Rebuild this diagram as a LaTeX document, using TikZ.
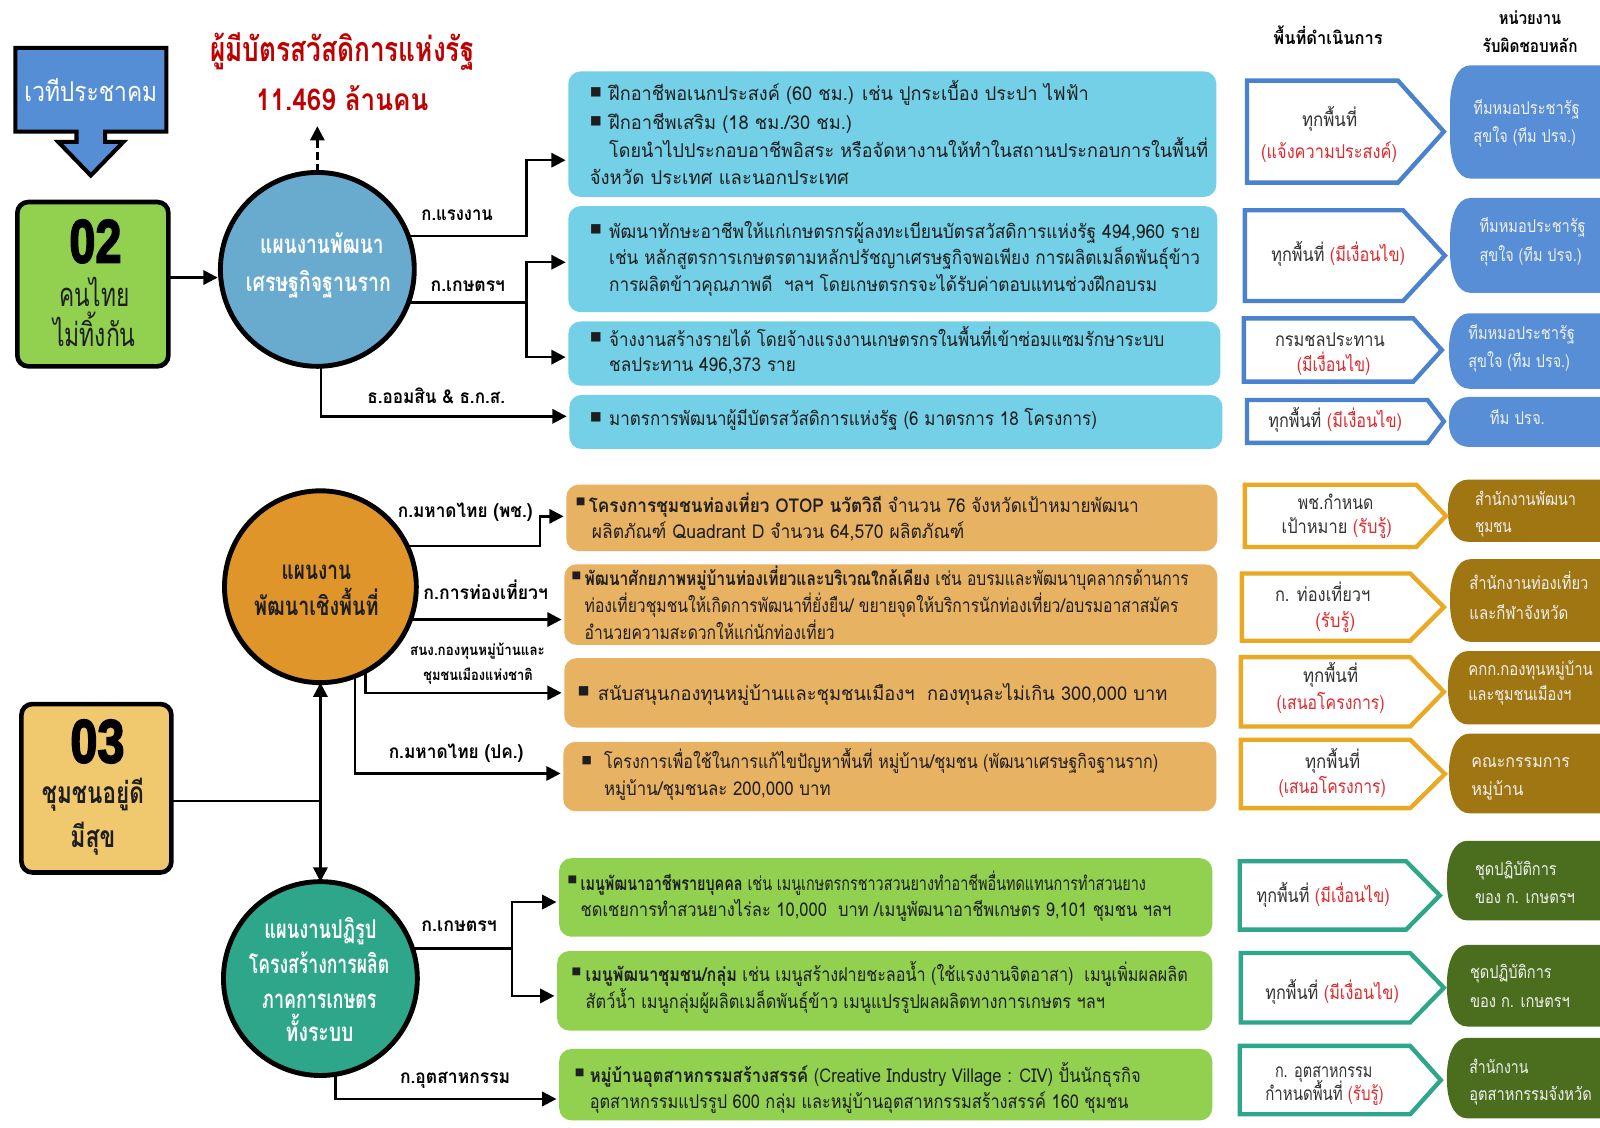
\documentclass[tikz,border=0pt]{standalone}
\usepackage{fontspec}
\usepackage{graphicx}
\setmainfont[Script=Thai]{Loma}
\newfontfamily\djv{DejaVu Sans}
\newfontface\numf[FakeBold=3]{Liberation Sans Bold}
\usetikzlibrary{arrows.meta,fit}
\definecolor{calloutblue}{RGB}{85,142,213}
\definecolor{greenA}{RGB}{146,208,80}
\definecolor{circA}{RGB}{104,171,207}
\definecolor{cyanbox}{RGB}{115,208,230}
\definecolor{pblue}{RGB}{75,130,205}
\definecolor{rblue}{RGB}{87,142,214}
\definecolor{circB}{RGB}{224,149,42}
\definecolor{obox}{RGB}{232,178,99}
\definecolor{pgold}{RGB}{233,169,35}
\definecolor{rbrown}{RGB}{160,118,18}
\definecolor{box03}{RGB}{240,200,110}
\definecolor{circC}{RGB}{46,166,138}
\definecolor{pteal}{RGB}{46,166,138}
\definecolor{rdgreen}{RGB}{75,110,30}
\definecolor{tred}{RGB}{225,40,45}
\definecolor{titlered}{RGB}{192,0,0}
\definecolor{txt}{RGB}{30,30,30}
\definecolor{ptxt}{RGB}{50,50,50}
\definecolor{rtxt}{RGB}{240,240,240}
\newcounter{tln}
\newcommand\ftx[6]{%
  \stepcounter{tln}%
  \pgfmathsetlengthmacro\fw{(#2-#1)*0.75pt}%
  \node[anchor=base west,inner sep=0pt,outer sep=0pt] (t\arabic{tln}) at (#1,{#3+0.45*#4})
    {\fontsize{#4}{#4}\selectfont #5\resizebox{\fw}{\height}{#6}};}
\newcommand\bul[3]{%
  \stepcounter{tln}%
  \node[inner sep=0pt,text=txt,font=\djv\fontsize{#3}{#3}\selectfont] (bl\arabic{tln}) at (#1,#2) {■};}
\newcommand\pent[6]{%
  \draw[#1,line width=3.2pt,fill=white,miter limit=4] (#2,#5) -- (#3,#5) -- (#4,{(#5+#6)/2}) -- (#3,#6) -- (#2,#6) -- cycle;}
\newcommand\rsh[4]{%
  \pgfmathsetmacro\ry{min(40,(#4-#3)/2-2)}%
  \fill[#1] (1600,#3) -- ({#2+20},#3) .. controls ({#2+7},#3) and (#2,{#3+0.45*\ry}) .. (#2,{#3+\ry})
    -- (#2,{#4-\ry}) .. controls (#2,{#4-0.45*\ry}) and ({#2+7},#4) .. ({#2+20},#4) -- (1600,#4) -- cycle;}
\tikzset{
  conn/.style={line width=1.8pt},
  arr/.style={conn,-{Triangle[length=10.5pt,width=10.5pt]},shorten >=2pt},
  arrs/.style={conn,{Triangle[length=10.5pt,width=10.5pt]}-{Triangle[length=10.5pt,width=10.5pt]}},
  bx/.style={inner sep=0pt,outer sep=0pt,rounded corners=9pt},
  circ/.style={circle,draw=black,line width=3.6pt,inner sep=0pt,outer sep=0pt}
}
\begin{document}
\begin{tikzpicture}[x=0.75pt,y=-0.75pt]
\useasboundingbox (0,0) rectangle (1568,1105.4);
\fill[white] (0,0) rectangle (1568,1105.4);

% ---------- left column ----------
\draw[line width=3pt,fill=calloutblue,line join=miter] (15,47) -- (163,47) -- (163,129) -- (103,129) -- (103,139) -- (121,139) -- (89,172) -- (57,139) -- (75,139) -- (75,129) -- (15,129) -- cycle;
\ftx{24}{154}{90}{20}{\color{white}}{เวทีประชาคม}

\node[fit={(17,198) (165,359)},inner sep=0pt,outer sep=0pt,draw=black,line width=3.4pt,fill=greenA,rounded corners=8pt] (n02) {};
\ftx{68}{119}{237}{45}{\numf\color{black}}{02}
\ftx{58}{127}{290}{24}{\color{txt}}{คนไทย}
\ftx{52}{133}{329}{24}{\color{txt}}{ไม่ทิ้งกัน}

\node[fit={(21,690) (168,855)},inner sep=0pt,outer sep=0pt,draw=black,line width=3.4pt,fill=box03,rounded corners=8pt] (n03) {};
\ftx{69}{122}{727}{45}{\numf\color{black}}{03}
\ftx{41}{141}{778}{22}{\bfseries\color{txt}}{ชุมชนอยู่ดี}
\ftx{69}{113}{820.5}{22}{\bfseries\color{txt}}{มีสุข}

\ftx{206}{465}{48.6}{25}{\bfseries\color{titlered}}{ผู้มีบัตรสวัสดิการแห่งรัฐ}
\ftx{251}{420}{98}{22}{\bfseries\color{titlered}}{11.469 ล้านคน}

% ---------- circles ----------
\node[circ,fill=circA,minimum size=142.5pt] (c1) at (311,264) {};
\ftx{255}{376}{239.5}{19}{\bfseries\color{white}}{แผนงานพัฒนา}
\ftx{241}{383}{277.5}{19}{\bfseries\color{white}}{เศรษฐกิจฐานราก}

\node[circ,fill=circB,minimum size=141pt] (c2) at (314,575) {};
\ftx{276}{344}{559.6}{19}{\bfseries\color{txt}}{แผนงาน}
\ftx{249}{371}{594.5}{19}{\bfseries\color{txt}}{พัฒนาเชิงพื้นที่}

\node[circ,fill=circC,minimum size=142.5pt] (c3) at (314,959) {};
\ftx{259}{369}{910.7}{19}{\bfseries\color{white}}{แผนงานปฏิรูป}
\ftx{244}{381.5}{945}{19}{\bfseries\color{white}}{โครงสร้างการผลิต}
\ftx{257}{369}{979.5}{19}{\bfseries\color{white}}{ภาคการเกษตร}
\ftx{280}{346.5}{1012}{19}{\bfseries\color{white}}{ทั้งระบบ}

% ---------- boxes ----------
\node[bx,fill=cyanbox,fit={(557,70) (1192,193)}] (b1) {};
\node[bx,fill=cyanbox,fit={(557,202) (1193,306)}] (b2) {};
\node[bx,fill=cyanbox,fit={(557,315) (1196,378)}] (b3) {};
\node[bx,fill=cyanbox,fit={(558,387) (1198,440)}] (b4) {};
\node[bx,fill=obox,fit={(555,475) (1193,540)}] (o1) {};
\node[bx,fill=obox,fit={(553,553) (1193,632)}] (o2) {};
\node[bx,fill=obox,fit={(553,645) (1192,713)}] (o3) {};
\node[bx,fill=obox,fit={(552,727) (1192,795)}] (o4) {};
\node[bx,fill=greenA,fit={(548,841) (1188,918)}] (g1) {};
\node[bx,fill=greenA,fit={(546,932) (1188,1010)}] (g2) {};
\node[bx,fill=greenA,fit={(548,1028) (1188,1098)}] (g3) {};

% box texts
\bul{584}{90}{9}\bul{584}{119}{9}
\ftx{597}{1067}{92}{14}{\color{txt}}{ฝึกอาชีพอเนกประสงค์ (60 ชม.) เช่น ปูกระเบื้อง ประปา ไฟฟ้า}
\ftx{597}{835}{121}{14}{\color{txt}}{ฝึกอาชีพเสริม (18 ชม./30 ชม.)}
\ftx{597}{1184}{148}{14}{\color{txt}}{โดยนำไปประกอบอาชีพอิสระ หรือจัดหางานให้ทำในสถานประกอบการในพื้นที่}
\ftx{578}{832}{175}{14}{\color{txt}}{จังหวัด ประเทศ และนอกประเทศ}

\bul{584}{225}{9}
\ftx{597}{1176}{227}{14}{\color{txt}}{พัฒนาทักษะอาชีพให้แก่เกษตรกรผู้ลงทะเบียนบัตรสวัสดิการแห่งรัฐ 494,960 ราย}
\ftx{597}{1176}{253}{14}{\color{txt}}{เช่น หลักสูตรการเกษตรตามหลักปรัชญาเศรษฐกิจพอเพียง การผลิตเมล็ดพันธุ์ข้าว}
\ftx{597}{1134}{279}{14}{\color{txt}}{การผลิตข้าวคุณภาพดี \ ฯลฯ โดยเกษตรกรจะได้รับค่าตอบแทนช่วงฝึกอบรม}

\bul{584}{331}{9}
\ftx{597}{1141}{333}{14}{\color{txt}}{จ้างงานสร้างรายได้ โดยจ้างแรงงานเกษตรกรในพื้นที่เข้าซ่อมแซมรักษาระบบ}
\ftx{597}{780}{357.5}{14}{\color{txt}}{ชลประทาน 496,373 ราย}

\bul{584}{409}{9}
\ftx{597}{1075}{411}{14}{\color{txt}}{มาตรการพัฒนาผู้มีบัตรสวัสดิการแห่งรัฐ (6 มาตรการ 18 โครงการ)}

\bul{569}{492}{7.5}
\ftx{577}{1116}{496}{14}{\color{txt}}{{\bfseries โครงการชุมชนท่องเที่ยว OTOP นวัตวิถี} จำนวน 76 จังหวัดเป้าหมายพัฒนา}
\ftx{580}{945}{521.5}{14}{\color{txt}}{ผลิตภัณฑ์ Quadrant D จำนวน 64,570 ผลิตภัณฑ์}

\bul{565}{564}{7.5}
\ftx{573}{1165}{567}{14}{\color{txt}}{{\bfseries พัฒนาศักยภาพหมู่บ้านท่องเที่ยวและบริเวณใกล้เคียง} เช่น อบรมและพัฒนาบุคลากรด้านการ}
\ftx{573}{1155}{594}{14}{\color{txt}}{ท่องเที่ยวชุมชนให้เกิดการพัฒนาที่ยั่งยืน/ ขยายจุดให้บริการนักท่องเที่ยว/อบรมอาสาสมัคร}
\ftx{573}{818}{620}{14}{\color{txt}}{อำนวยความสะดวกให้แก่นักท่องเที่ยว}

\bul{572}{677}{9}
\ftx{586}{1144}{680}{14}{\color{txt}}{สนับสนุนกองทุนหมู่บ้านและชุมชนเมืองฯ \ กองทุนละไม่เกิน 300,000 บาท}

\bul{575}{745}{8}
\ftx{592}{1135}{747}{14}{\color{txt}}{โครงการเพื่อใช้ในการแก้ไขปัญหาพื้นที่ หมู่บ้าน/ชุมชน (พัฒนาเศรษฐกิจฐานราก)}
\ftx{592}{814}{773}{14}{\color{txt}}{หมู่บ้าน/ชุมชนละ 200,000 บาท}

\bul{561}{862}{7.5}
\ftx{569}{1123}{866}{14}{\color{txt}}{{\bfseries เมนูพัฒนาอาชีพรายบุคคล} เช่น เมนูเกษตรกรชาวสวนยางทำอาชีพอื่นทดแทนการทำสวนยาง}
\ftx{569}{1148}{891.6}{14}{\color{txt}}{ชดเชยการทำสวนยางไร่ละ 10,000 \ บาท /เมนูพัฒนาอาชีพเกษตร 9,101 ชุมชน ฯลฯ}

\bul{565}{952}{7.5}
\ftx{574}{1164}{956}{14}{\color{txt}}{{\bfseries เมนูพัฒนาชุมชน/กลุ่ม} เช่น เมนูสร้างฝายชะลอน้ำ (ใช้แรงงานจิตอาสา) \ เมนูเพิ่มผลผลิต}
\ftx{574}{1083}{981.7}{14}{\color{txt}}{สัตว์น้ำ เมนูกลุ่มผู้ผลิตเมล็ดพันธุ์ข้าว เมนูแปรรูปผลผลิตทางการเกษตร ฯลฯ}

\bul{568}{1051}{7.5}
\ftx{578}{1118}{1054.5}{14}{\color{txt}}{{\bfseries หมู่บ้านอุตสาหกรรมสร้างสรรค์} (Creative Industry Village : CIV) ปั้นนักธุรกิจ}
\ftx{578}{1106}{1080}{14}{\color{txt}}{อุตสาหกรรมแปรรูป 600 กลุ่ม และหมู่บ้านอุตสาหกรรมสร้างสรรค์ 160 ชุมชน}

% ---------- headers ----------
\ftx{1248}{1355}{37.6}{13}{\bfseries\color{black}}{พื้นที่ดำเนินการ}
\ftx{1469}{1530}{18}{13}{\bfseries\color{black}}{หน่วยงาน}
\ftx{1453}{1546}{45.7}{13}{\bfseries\color{black}}{รับผิดชอบหลัก}

% ---------- responsible units ----------
\rsh{rblue}{1421}{64}{175}
\rsh{rblue}{1421}{194}{287}
\rsh{rblue}{1420}{307}{381}
\rsh{rblue}{1420}{389}{438}
\rsh{rbrown}{1419}{470}{531}
\rsh{rbrown}{1421}{548}{629}
\rsh{rbrown}{1419}{638}{710}
\rsh{rbrown}{1420}{719}{797}
\rsh{rdgreen}{1418}{824}{902}
\rsh{rdgreen}{1418}{926}{1006}
\rsh{rdgreen}{1418}{1017}{1096}

\ftx{1444}{1548}{106}{13}{\color{rtxt}}{ทีมหมอประชารัฐ}
\ftx{1444}{1544.5}{134}{13}{\color{rtxt}}{สุขใจ (ทีม ปรจ.)}
\ftx{1450}{1554}{222}{13}{\color{rtxt}}{ทีมหมอประชารัฐ}
\ftx{1450}{1550}{250}{13}{\color{rtxt}}{สุขใจ (ทีม ปรจ.)}
\ftx{1439}{1543.5}{326.7}{13}{\color{rtxt}}{ทีมหมอประชารัฐ}
\ftx{1439}{1538.6}{354.5}{13}{\color{rtxt}}{สุขใจ (ทีม ปรจ.)}
\ftx{1460}{1514}{410}{13}{\color{rtxt}}{ทีม ปรจ.}
\ftx{1445.5}{1544.5}{490}{13}{\color{rtxt}}{สำนักงานพัฒนา}
\ftx{1445.5}{1481.5}{516}{13}{\color{rtxt}}{ชุมชน}
\ftx{1440}{1556.6}{572.3}{13}{\color{rtxt}}{สำนักงานท่องเที่ยว}
\ftx{1440}{1537}{601}{13}{\color{rtxt}}{และกีฬาจังหวัด}
\ftx{1439}{1561}{656}{13}{\color{rtxt}}{คกก.กองทุนหมู่บ้าน}
\ftx{1439}{1540}{681}{13}{\color{rtxt}}{และชุมชนเมืองฯ}
\ftx{1442}{1538.6}{746.5}{13}{\color{rtxt}}{คณะกรรมการ}
\ftx{1442}{1493}{774}{13}{\color{rtxt}}{หมู่บ้าน}
\ftx{1445.5}{1525.6}{852.6}{13}{\color{rtxt}}{ชุดปฏิบัติการ}
\ftx{1445.5}{1543.5}{879.4}{13}{\color{rtxt}}{ของ ก. เกษตรฯ}
\ftx{1440.6}{1520.7}{953}{13}{\color{rtxt}}{ชุดปฏิบัติการ}
\ftx{1440.6}{1538.6}{981.7}{13}{\color{rtxt}}{ของ ก. เกษตรฯ}
\ftx{1440}{1497.8}{1046}{13}{\color{rtxt}}{สำนักงาน}
\ftx{1440}{1560}{1073}{13}{\color{rtxt}}{อุตสาหกรรมจังหวัด}

% ---------- areas (pentagons) ----------
\pent{pblue}{1222}{1370}{1415}{79}{179}
\pent{pblue}{1220}{1375}{1416}{206}{295}
\pent{pblue}{1219}{1385}{1413}{312}{374}
\pent{pblue}{1222}{1399}{1415}{392}{434}
\pent{pgold}{1220}{1388}{1417}{475}{536}
\pent{pgold}{1217}{1382}{1415}{562}{628}
\pent{pgold}{1216}{1382}{1415}{644}{712}
\pent{pgold}{1216}{1382}{1416}{725}{792}
\pent{pteal}{1215}{1378}{1411}{844}{911}
\pent{pteal}{1216}{1382}{1415}{934}{1002}
\pent{pteal}{1215}{1382}{1412}{1025}{1092}

\ftx{1276}{1330}{117.6}{14}{\color{ptxt}}{ทุกพื้นที่}
\ftx{1236}{1369}{148.6}{14}{\color{tred}}{(แจ้งความประสงค์)}
\ftx{1246}{1377}{250}{14}{\color{ptxt}}{ทุกพื้นที่ \textcolor{tred}{(มีเงื่อนไข)}}
\ftx{1249.5}{1357}{333}{14}{\color{ptxt}}{กรมชลประทาน}
\ftx{1271}{1343}{357.7}{14}{\color{tred}}{(มีเงื่อนไข)}
\ftx{1243}{1374}{413}{14}{\color{ptxt}}{ทุกพื้นที่ \textcolor{tred}{(มีเงื่อนไข)}}
\ftx{1272}{1346}{492.6}{14}{\color{ptxt}}{พช.กำหนด}
\ftx{1256}{1364}{517}{14}{\color{ptxt}}{เป้าหมาย \textcolor{tred}{(รับรู้)}}
\ftx{1249.5}{1343}{583}{14}{\color{ptxt}}{ก. ท่องเที่ยวฯ}
\ftx{1289}{1328}{608.6}{14}{\color{tred}}{(รับรู้)}
\ftx{1277}{1331}{663}{14}{\color{ptxt}}{ทุกพื้นที่}
\ftx{1251}{1357}{689}{14}{\color{tred}}{(เสนอโครงการ)}
\ftx{1279}{1333}{746.5}{14}{\color{ptxt}}{ทุกพื้นที่}
\ftx{1253}{1358}{771}{14}{\color{tred}}{(เสนอโครงการ)}
\ftx{1231.5}{1362}{878}{14}{\color{ptxt}}{ทุกพื้นที่ \textcolor{tred}{(มีเงื่อนไข)}}
\ftx{1240}{1371}{973.5}{14}{\color{ptxt}}{ทุกพื้นที่ \textcolor{tred}{(มีเงื่อนไข)}}
\ftx{1249.5}{1345}{1050}{14}{\color{ptxt}}{ก. อุตสาหกรรม}
\ftx{1240}{1356}{1072}{14}{\color{ptxt}}{กำหนดพื้นที่ \textcolor{tred}{(รับรู้)}}

% ---------- connector labels ----------
\ftx{413}{483}{210}{14}{\bfseries\color{black}}{ก.แรงงาน}
\ftx{422}{495}{279}{14}{\bfseries\color{black}}{ก.เกษตรฯ}
\ftx{360}{495}{389}{14}{\bfseries\color{black}}{ธ.ออมสิน \& ธ.ก.ส.}
\ftx{390}{522}{501}{14}{\bfseries\color{black}}{ก.มหาดไทย (พช.)}
\ftx{415}{537}{581}{14}{\bfseries\color{black}}{ก.การท่องเที่ยวฯ}
\ftx{402}{534}{637}{11}{\bfseries\color{black}}{สนง.กองทุนหมู่บ้านและ}
\ftx{415}{522}{661.5}{11}{\bfseries\color{black}}{ชุมชนเมืองแห่งชาติ}
\ftx{381}{513}{737}{14}{\bfseries\color{black}}{ก.มหาดไทย (ปค.)}
\ftx{413}{487}{907}{14}{\bfseries\color{black}}{ก.เกษตรฯ}
\ftx{392}{500}{1056}{14}{\bfseries\color{black}}{ก.อุตสาหกรรม}

% ---------- connectors ----------
\coordinate (q) at (160,272);
\draw[arr] (q -| n02.east) -- (q -| c1.west);
\coordinate (dt) at (311,121);
\draw[arr,dash pattern=on 6pt off 3pt] (c1.north) -- (dt);

\coordinate (a1) at (516,157);
\draw[arr] (c1.20) -| (a1) -- (a1 -| b1.west);
\coordinate (a2) at (516,257);
\coordinate (a3) at (516,350);
\coordinate (k1) at (c1.-20);
\draw[arr] (k1) -| (a2) -- (a2 -| b2.west);
\draw[arr] (k1 -| a2) |- (a3 -| b3.west);
\coordinate (a4) at (315,408);
\draw[arr] (c1.-88) |- (a4 -| b4.west);

\coordinate (d1) at (529,506);
\draw[arr] (c2.25) -| (d1) -- (d1 -| o1.west);
\coordinate (k2) at (c2.-20);
\draw[arr] (k2) -- (k2 -| o2.west);
\coordinate (d3) at (358,679);
\draw[arr] (c2.-62) |- (d3 -| o3.west);
\coordinate (d4) at (347,758);
\draw[arr] (c2.-69) |- (d4 -| o4.west);

\draw[arrs] (c2.south) -- (c3.north);
\coordinate (m) at (314,785);
\draw[conn] (m -| n03.east) -- (m);

\coordinate (e1) at (502,884);
\coordinate (e2) at (502,976);
\coordinate (k3) at (c3.18);
\draw[arr] (k3) -| (e1) -- (e1 -| g1.west);
\draw[arr] (k3 -| e1) |- (e2 -| g2.west);
\coordinate (e3) at (329,1077);
\draw[arr] (c3.-81) |- (e3 -| g3.west);
\end{tikzpicture}
\end{document}
